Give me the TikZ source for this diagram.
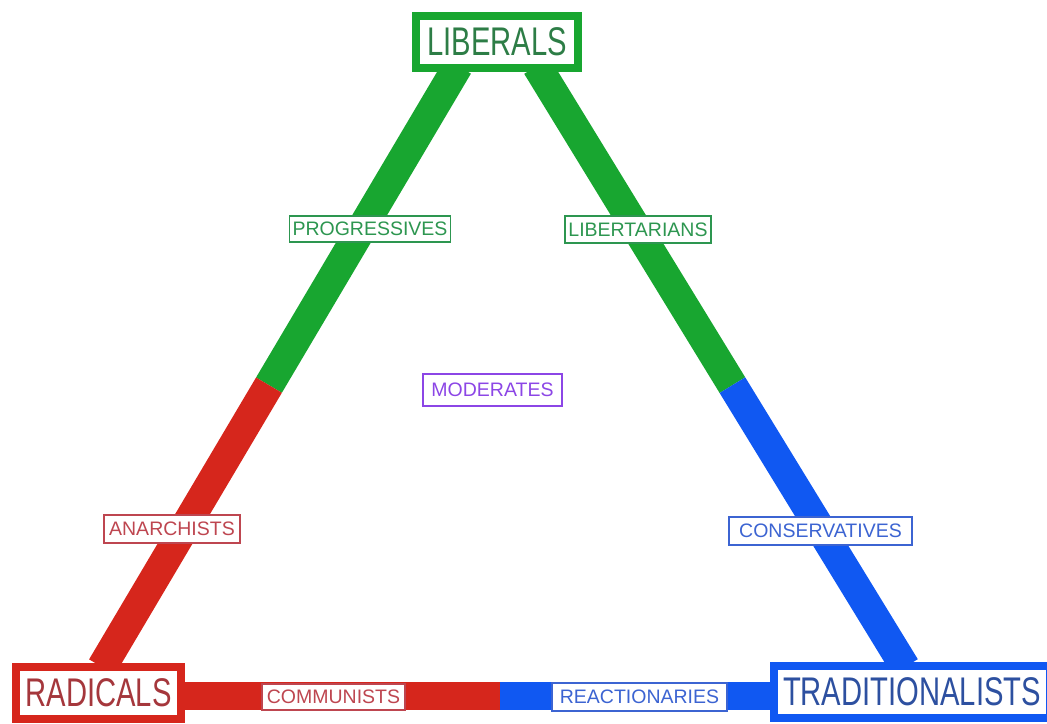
\documentclass[tikz,border=0pt]{standalone}
\usepackage{fontspec}
\usetikzlibrary{calc}
\setmainfont{Liberation Sans}
\newfontfamily\bigfont[FakeStretch=0.73]{Liberation Sans}
\definecolor{bgreen}{RGB}{24,166,48}
\definecolor{bred}{RGB}{214,38,28}
\definecolor{bblue}{RGB}{16,88,242}
\definecolor{tgreen}{RGB}{45,125,70}
\definecolor{lgreen}{RGB}{45,150,80}
\definecolor{tred}{RGB}{165,55,60}
\definecolor{lred}{RGB}{190,70,80}
\definecolor{tblue}{RGB}{45,80,160}
\definecolor{lblue}{RGB}{60,100,210}
\definecolor{tpurple}{RGB}{140,70,230}
\tikzset{
  band/.style={line width=30pt, line cap=butt},
  bigbox/.style={draw, line width=8pt, fill=white, inner sep=0pt, minimum height=52pt,
    font=\bigfont\fontsize{40}{40}\selectfont},
  lab/.style={draw, line width=1.4pt, fill=white, inner sep=0pt,
    font=\fontsize{19.5}{19.5}\selectfont}
}
\begin{document}
\begin{tikzpicture}[x=1pt,y=-1pt]
\useasboundingbox (0,0) rectangle (1047,723);
% band end coordinates
\coordinate (ltop) at (458,66);
\coordinate (lmid) at ($(458,66)!0.531!(102,667)$);
\coordinate (lbot) at (102,667);
\coordinate (rtop) at (537,66);
\coordinate (rmid) at ($(537,66)!0.531!(905,667)$);
\coordinate (rbot) at (905,667);
\coordinate (bl) at (180,696);
\coordinate (bm) at (500,696);
\coordinate (br) at (775,696);
% bands
\draw[band, bgreen] (ltop) -- (lmid);
\draw[band, bred] (lmid) -- (lbot);
\draw[band, bgreen] (rtop) -- (rmid);
\draw[band, bblue] (rmid) -- (rbot);
\draw[band, line width=28pt, bred] (bl) -- (bm);
\draw[band, line width=28pt, bblue] (bm) -- (br);
% main boxes
\node[bigbox, draw=bgreen, text=tgreen, minimum width=162pt] (lib) at (497,42) {LIBERALS};
\node[bigbox, draw=bred, text=tred, minimum width=165pt] (rad) at (98.5,693) {RADICALS};
\node[bigbox, draw=bblue, text=tblue, minimum width=276pt] (trad) at (912,692) {TRADITIONALISTS};
% labels
\node[lab, draw=lgreen, text=lgreen, minimum width=161pt, minimum height=26pt] (prog) at (370,229) {PROGRESSIVES};
\node[lab, draw=lgreen, text=lgreen, minimum width=146pt, minimum height=27pt] (libt) at (638,229.5) {LIBERTARIANS};
\node[lab, draw=tpurple, text=tpurple, minimum width=139pt, minimum height=32pt] (mod) at (492.5,390) {MODERATES};
\node[lab, draw=lred, text=lred, minimum width=136pt, minimum height=28pt] (anar) at (172,529) {ANARCHISTS};
\node[lab, draw=lblue, text=lblue, minimum width=183pt, minimum height=28pt] (cons) at (820.5,531) {CONSERVATIVES};
\node[lab, draw=lred, text=lred, minimum width=143pt, minimum height=26pt] (comm) at (333.5,697) {COMMUNISTS};
\node[lab, draw=lblue, text=lblue, minimum width=175pt, minimum height=28pt] (reac) at (639.5,697) {REACTIONARIES};
\end{tikzpicture}
\end{document}
